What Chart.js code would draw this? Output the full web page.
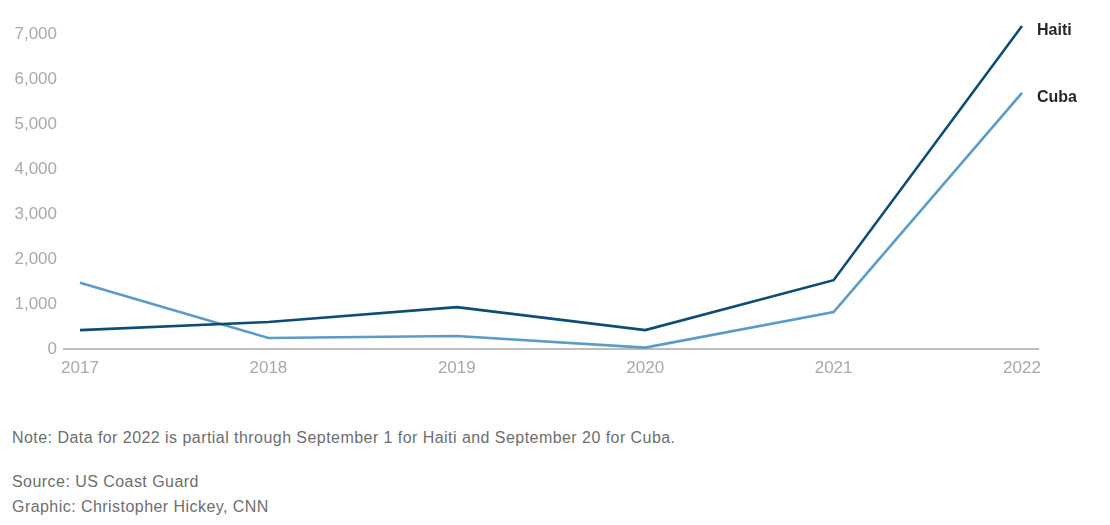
<!DOCTYPE html>
<html>
<head>
<meta charset="utf-8">
<script src="https://cdn.jsdelivr.net/npm/chart.js@4"></script>
<style>
  html, body { margin: 0; padding: 0; background: #fff; }
  body { width: 1110px; height: 525px; position: relative; font-family: "Liberation Sans", Arial, sans-serif; }
  #wrap { position: absolute; left: 0; top: 0; width: 1110px; height: 390px; }
  .note { position: absolute; left: 12px; color: #6e6e6e; font-size: 16px; letter-spacing: 0.45px; white-space: nowrap; }
</style>
</head>
<body>
<div id="wrap"><canvas id="chart"></canvas></div>
<div class="note" style="top:429px">Note: Data for 2022 is partial through September 1 for Haiti and September 20 for Cuba.</div>
<div class="note" style="top:473px">Source: US Coast Guard</div>
<div class="note" style="top:498px">Graphic: Christopher Hickey, CNN</div>
<script>
// --- Data --- //
const years = [2017, 2018, 2019, 2020, 2021, 2022];
const haiti = [420, 600, 930, 420, 1530, 7180];
const cuba = [1470, 245, 290, 30, 820, 5690];
const yTicks = [0, 1000, 2000, 3000, 4000, 5000, 6000, 7000];

const toPoints = (vals) => vals.map((v, i) => ({ x: years[i], y: v }));

// draws the series name next to the last point
const endLabels = {
    id: 'endLabels',
    afterDatasetsDraw(chart) {
        const ctx = chart.ctx;
        ctx.save();
        ctx.font = '600 16px "Liberation Sans", Arial, sans-serif';
        ctx.fillStyle = '#262626';
        ctx.textBaseline = 'middle';
        chart.data.datasets.forEach((ds, i) => {
            const pts = chart.getDatasetMeta(i).data;
            const last = pts[pts.length - 1];
            ctx.fillText(ds.label, last.x + 15, last.y + 5);
        });
        ctx.restore();
    }
};

const tickFont = { family: '"Liberation Sans", Arial, sans-serif', size: 17 };

new Chart(document.getElementById('chart').getContext('2d'), {
    type: 'line',
    data: {
        datasets: [
            {
                label: 'Haiti',
                data: toPoints(haiti),
                borderColor: '#0c4d73',
                borderWidth: 2.6,
                pointRadius: 0,
                tension: 0
            },
            {
                label: 'Cuba',
                data: toPoints(cuba),
                borderColor: '#5a9bc8',
                borderWidth: 2.6,
                pointRadius: 0,
                tension: 0
            }
        ]
    },
    options: {
        responsive: true,
        maintainAspectRatio: false,
        animation: false,
        layout: { padding: { top: 25, right: 72, left: 0, bottom: 0 } },
        plugins: { legend: { display: false }, tooltip: { enabled: false } },
        scales: {
            x: {
                type: 'linear',
                min: 2016.915,
                max: 2022.085,
                afterBuildTicks: (s) => { s.ticks = years.map(v => ({ value: v })); },
                afterFit: (s) => { s.height = 41; },
                grid: { display: false, drawTicks: false },
                border: { display: true, color: '#bdbdbd', width: 2 },
                ticks: {
                    color: '#a9a9a9',
                    font: tickFont,
                    padding: 9,
                    maxRotation: 0,
                    autoSkip: false,
                    callback: (v) => String(v)
                }
            },
            y: {
                min: 0,
                max: 7200,
                afterBuildTicks: (s) => { s.ticks = yTicks.map(v => ({ value: v })); },
                afterFit: (s) => { s.width = 64; },
                grid: { display: false, drawTicks: false },
                border: { display: false },
                ticks: {
                    color: '#a9a9a9',
                    font: tickFont,
                    padding: 7,
                    callback: (v) => v.toLocaleString('en-US')
                }
            }
        }
    },
    plugins: [endLabels]
});
</script>
</body>
</html>
